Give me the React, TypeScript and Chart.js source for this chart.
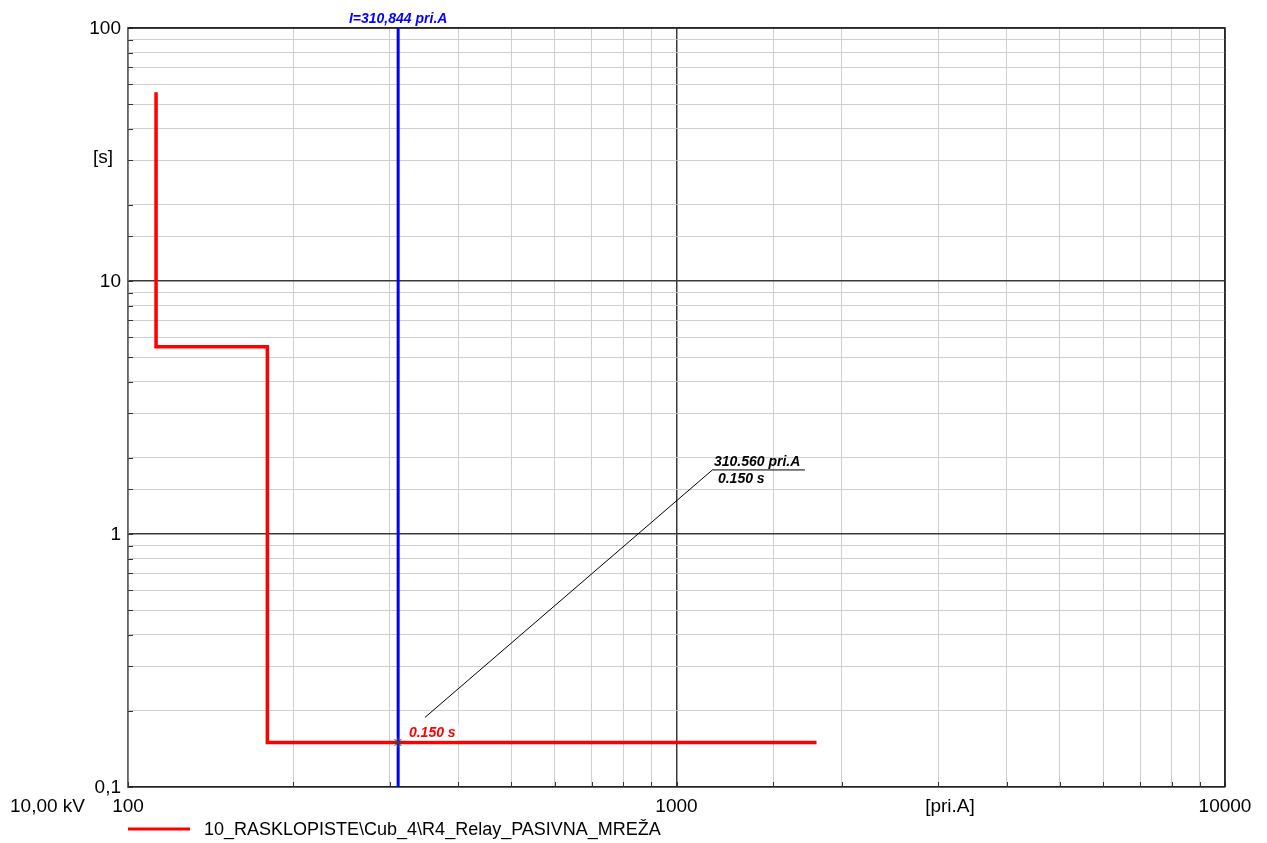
import { useEffect, useRef } from "react";
import { Chart, registerables } from "chart.js";

Chart.register(...registerables);

// Relay trip characteristic (primary current in A, trip time in s)
const relayCurrent = [112.5, 112.5, 179.5, 179.5, 1800];
const relayTime = [55.7, 5.5, 5.5, 0.15, 0.15];
const relayLabel = "10_RASKLOPISTE\\Cub_4\\R4_Relay_PASIVNA_MREŽA";

// Vertical current cursor
const cursorCurrent = 310.844;
const cursorLabel = "I=310,844 pri.A";

// Picked point on the characteristic
const pickCurrent = 310.56;
const pickTime = 0.15;
const pickTimeLabel = "0.150 s";
const pickCurrentLabel = "310.560 pri.A";

// Axes
const currentRange = [100, 10000];
const timeRange = [0.1, 100];
const xTickValues = [100, 1000, 10000];
const xTickLabels = ["100", "1000", "10000"];
const yTickValues = [0.1, 1, 10, 100];
const yTickLabels = ["0,1", "1", "10", "100"];
const xAxisTitle = "[pri.A]";
const yAxisTitle = "[s]";
const voltageLabel = "10,00 kV";

const FONT = "'Liberation Sans', Arial, sans-serif";
const isDecade = (v: number) => Math.abs(Math.log10(v) - Math.round(Math.log10(v))) < 1e-6;

const overlay = {
  id: "overlay",
  beforeDatasetsDraw(chart: any) {
    const { ctx, chartArea: a } = chart;
    const xs = chart.scales.x;
    const ys = chart.scales.y;
    ctx.save();
    // inner tick marks
    ctx.strokeStyle = "#333";
    ctx.lineWidth = 1;
    ctx.beginPath();
    xs.ticks.forEach((t: any) => {
      const px = Math.round(xs.getPixelForValue(t.value)) + 0.5;
      ctx.moveTo(px, a.bottom);
      ctx.lineTo(px, a.bottom - 5);
    });
    ys.ticks.forEach((t: any) => {
      const py = Math.round(ys.getPixelForValue(t.value)) + 0.5;
      ctx.moveTo(a.left, py);
      ctx.lineTo(a.left + 5, py);
    });
    ctx.stroke();
    // frame: top and right
    ctx.strokeStyle = "#222";
    ctx.lineWidth = 1.5;
    ctx.beginPath();
    ctx.moveTo(a.left, a.top);
    ctx.lineTo(a.right, a.top);
    ctx.lineTo(a.right, a.bottom);
    ctx.stroke();
    ctx.restore();
  },
  afterDraw(chart: any) {
    const { ctx, chartArea: a } = chart;
    const xs = chart.scales.x;
    const ys = chart.scales.y;
    ctx.save();
    ctx.fillStyle = "#000";
    ctx.font = `19px ${FONT}`;
    // y tick labels
    ctx.textAlign = "right";
    ctx.textBaseline = "middle";
    yTickValues.forEach((v, i) => {
      ctx.fillText(yTickLabels[i], a.left - 7, ys.getPixelForValue(v) + 1);
    });
    // x tick labels
    ctx.textAlign = "center";
    xTickValues.forEach((v, i) => {
      ctx.fillText(xTickLabels[i], xs.getPixelForValue(v), a.bottom + 20);
    });
    ctx.fillText(xAxisTitle, 950, a.bottom + 20);
    ctx.textAlign = "left";
    ctx.fillText(voltageLabel, 10, a.bottom + 20);
    ctx.fillText(yAxisTitle, 93, 158);

    // cursor label
    ctx.fillStyle = "#0000ff";
    ctx.font = `italic bold 14px ${FONT}`;
    ctx.textAlign = "center";
    ctx.textBaseline = "alphabetic";
    ctx.fillText(cursorLabel, xs.getPixelForValue(cursorCurrent), a.top - 5);

    // picked point labels
    const px = xs.getPixelForValue(pickCurrent);
    const py = ys.getPixelForValue(pickTime);
    ctx.textAlign = "left";
    const tw = ctx.measureText(pickTimeLabel).width;
    ctx.fillStyle = "#fff";
    ctx.fillRect(px + 8, py - 18, tw + 6, 16);
    ctx.fillStyle = "#ff0000";
    ctx.fillText(pickTimeLabel, px + 11, py - 5);

    // leader line and callout
    const sx = px + 27, sy = py - 25;
    const ex = px + 315, ey = py - 273;
    ctx.strokeStyle = "#000";
    ctx.lineWidth = 1;
    ctx.beginPath();
    ctx.moveTo(sx, sy);
    ctx.lineTo(ex, ey);
    ctx.moveTo(ex, ey + 0.5);
    ctx.lineTo(ex + 92, ey + 0.5);
    ctx.stroke();
    ctx.fillStyle = "#000";
    ctx.fillText(pickCurrentLabel, ex + 1, ey - 3);
    ctx.fillText(pickTimeLabel, ex + 5, ey + 14);

    // legend
    ctx.strokeStyle = "#ff0000";
    ctx.lineWidth = 3;
    ctx.beginPath();
    ctx.moveTo(128, 829);
    ctx.lineTo(190, 829);
    ctx.stroke();
    ctx.fillStyle = "#000";
    ctx.font = `18px ${FONT}`;
    ctx.textBaseline = "middle";
    ctx.fillText(relayLabel, 204, 830);
    ctx.restore();
  },
};

export default function App() {
  const canvasRef = useRef<HTMLCanvasElement | null>(null);

  useEffect(() => {
    const canvas = canvasRef.current;
    if (!canvas) return;
    const gridColor = (ctx: any) => {
      const v = ctx.tick?.value;
      if (v === undefined) return "#cfcfcf";
      return isDecade(v) ? "#3a3a3a" : "#cfcfcf";
    };
    const gridWidth = (ctx: any) => {
      const v = ctx.tick?.value;
      return v !== undefined && isDecade(v) ? 1.5 : 1;
    };
    const chart = new Chart(canvas, {
      type: "line",
      data: {
        datasets: [
          {
            label: "cursor",
            data: [
              { x: cursorCurrent, y: timeRange[0] },
              { x: cursorCurrent, y: timeRange[1] },
            ],
            borderColor: "#0000ff",
            borderWidth: 3,
            pointRadius: 0,
            order: 0,
          },
          {
            label: "pick",
            data: [{ x: pickCurrent, y: pickTime }],
            showLine: false,
            pointStyle: "star",
            pointRadius: 5,
            borderColor: "#444",
            borderWidth: 1,
            order: -1,
          },
          {
            label: relayLabel,
            data: relayCurrent.map((x, i) => ({ x, y: relayTime[i] })),
            borderColor: "#ff0000",
            borderWidth: 3.5,
            pointRadius: 0,
            tension: 0,
            order: 1,
          },
        ],
      },
      options: {
        animation: false,
        responsive: false,
        devicePixelRatio: 1,
        layout: { padding: { left: 128, top: 28, right: 42, bottom: 56 } },
        plugins: { legend: { display: false }, tooltip: { enabled: false } },
        scales: {
          x: {
            type: "logarithmic",
            min: currentRange[0],
            max: currentRange[1],
            ticks: { display: false },
            grid: { color: gridColor, lineWidth: gridWidth, drawTicks: false },
            border: { display: true, color: "#222", width: 1.5 },
          },
          y: {
            type: "logarithmic",
            min: timeRange[0],
            max: timeRange[1],
            ticks: { display: false },
            grid: { color: gridColor, lineWidth: gridWidth, drawTicks: false },
            border: { display: true, color: "#666", width: 1.5 },
          },
        },
      },
      plugins: [overlay],
    });
    return () => chart.destroy();
  }, []);

  return (
    <div style={{ position: "absolute", left: 0, top: 0, width: 1267, height: 843, background: "#fff" }}>
      <canvas ref={canvasRef} width={1267} height={843} />
    </div>
  );
}
